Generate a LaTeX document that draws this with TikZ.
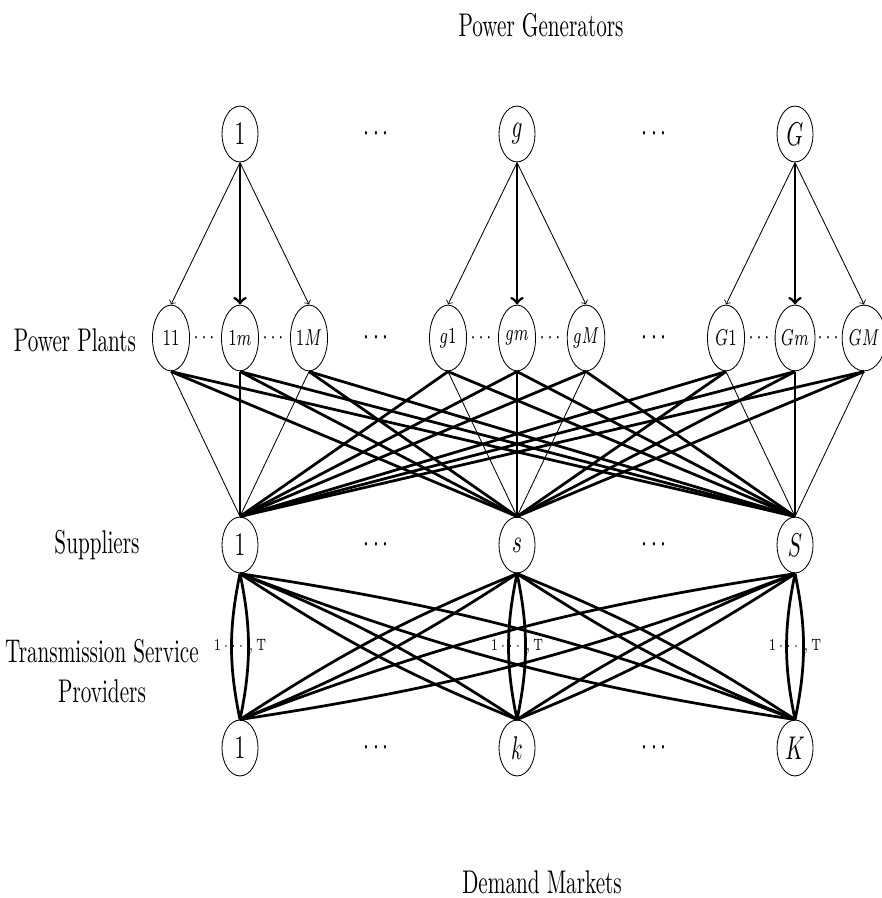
\documentclass[tikz,border=0pt]{standalone}
\usetikzlibrary{shapes.geometric}
\usepackage{amsmath}

\begin{document}
\begin{tikzpicture}[x=0.4717pt, y=-0.3043pt, yscale=1.55,
  every node/.style={transform shape},
  agent/.style={draw, circle, minimum size=17pt, inner sep=0pt},
  plant/.style={draw, ellipse, minimum width=17.5pt, minimum height=20pt, inner sep=0pt, font=\scriptsize},
  thinlink/.style={line width=0.4pt},
  thicklink/.style={line width=1.3pt}]
\useasboundingbox (0,0) rectangle (881,898);

% row labels
\node (titletop) at (541,25) {Power Generators};
\node (titlebot) at (542,882) {Demand Markets};
\node (lplants) at (75,340) {Power Plants};
\node (lsupp) at (97,545) {Suppliers};
\node[align=center] (ltrans) at (102,671) {Transmission Service\\Providers};

% generators, plants, suppliers, demand markets
\foreach \g/\s/\k/\x in {1/1/1/240, g/s/k/517, G/S/K/795} {
 \node[agent] (gen\g) at (\x,134) {$\g$};
 \node[plant] (plant\g1) at (\x-69,338) {$\g1$};
 \node[plant] (plant\g m) at (\x,338) {$\g m$};
 \node[plant] (plant\g M) at (\x+69,338) {$\g M$};
 \node[font=\scriptsize] (pdotsa\g) at (\x-34.5,338) {$\cdots$};
 \node[font=\scriptsize] (pdotsb\g) at (\x+34.5,338) {$\cdots$};
 \node[agent] (sup\s) at (\x,545) {$\s$};
 \node[agent] (dem\k) at (\x,748) {$\k$};
}
\foreach \x in {378,656} {
 \foreach \y in {134,338,545,748} {
  \node (dots\x-\y) at (\x,\y) {$\cdots$};
 }
}

% generators to plants
\foreach \g in {1,g,G} {
 \draw[->, thinlink] (gen\g.south) -- (plant\g1.north);
 \draw[->, thicklink] (gen\g.south) -- (plant\g m.north);
 \draw[->, thinlink] (gen\g.south) -- (plant\g M.north);
}

% plants to suppliers
\foreach \g/\s in {1/1, g/s, G/S} {
 \draw[thinlink] (plant\g1.south) -- (sup\s.north);
 \draw[thicklink] (plant\g m.south) -- (sup\s.north);
 \draw[thinlink] (plant\g M.south) -- (sup\s.north);
}
\foreach \g/\s in {1/s, 1/S, g/1, g/S, G/1, G/s} {
 \foreach \p in {1,m,M} {
  \draw[thicklink] (plant\g\p.south) -- (sup\s.north);
 }
}

% suppliers to demand markets
\foreach \s/\k/\x in {1/1/240, s/k/517, S/K/795} {
 \draw[thicklink] (sup\s.south) to[bend left=18] (dem\k.north);
 \draw[thicklink] (sup\s.south) to[bend right=18] (dem\k.north);
 \node[font=\tiny] (tsp\s) at (\x,647) {$1\cdots,\mathrm{T}$};
}
\foreach \s/\k in {1/k, 1/K, s/1, s/K, S/1, S/k} {
 \draw[thicklink] (sup\s.south) to[bend left=4] (dem\k.north);
 \draw[thicklink] (sup\s.south) to[bend right=4] (dem\k.north);
}
\end{tikzpicture}
\end{document}
